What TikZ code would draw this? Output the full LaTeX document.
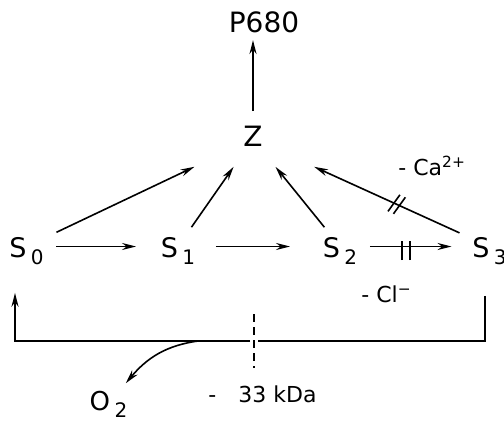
\documentclass[tikz,border=0pt]{standalone}
\usepackage{fontspec}
\setmainfont{DejaVu Sans}
\usetikzlibrary{arrows.meta,decorations.markings}
\newcommand{\lowidx}[1]{\raisebox{-3.5pt}{\fontsize{10}{12}\selectfont #1}}

\begin{document}
\begin{tikzpicture}[
    x=1pt, y=1pt,
    line width=0.8pt,
    big/.style={font=\fontsize{14}{16}\selectfont},
    state/.style={font=\fontsize{13.5}{16}\selectfont, inner xsep=6pt, inner ysep=0pt, text height=14.5pt, text depth=4pt, anchor=base},
    lbl/.style={font=\fontsize{11}{13}\selectfont, anchor=base west},
    arr/.style={-{Stealth[length=7pt,width=3.5pt]}},
    slash/.style={postaction={decorate}, decoration={markings, mark=at position #1 with {\draw[-] (-1.5pt,-5pt) -- (0.5pt,5pt); \draw[-] (1.5pt,-5pt) -- (3.5pt,5pt);}}},
    bars/.style={postaction={decorate}, decoration={markings, mark=at position #1 with {\draw[-] (-2pt,-6.75pt) -- (-2pt,6.75pt); \draw[-] (2pt,-6.75pt) -- (2pt,6.75pt);}}}
]
\useasboundingbox (0,0) rectangle (252,210);

\node[big] (p680) at (132,199) {P680};
\node[big, inner sep=0pt, text height=17pt, text depth=10pt, minimum width=80pt, anchor=base] (z) at (126.5,137) {Z};
\node[state] (s0) at (13.25,81.5) {S\,\lowidx{0}};
\node[state] (s1) at (89,81.5) {S\,\lowidx{1}};
\node[state] (s2) at (170,81.5) {S\,\lowidx{2}};
\node[state] (s3) at (244.75,81.5) {S\,\lowidx{3}};
\node[font=\fontsize{13}{15}\selectfont, anchor=base] (o2) at (54.25,5) {O\,\lowidx{2}};
\node[lbl] (ca) at (195.5,122.5) {- Ca\textsuperscript{2+}};
\node[lbl] (cl) at (177,59) {- Cl\textsuperscript{−}};
\node[lbl] (kda) at (100.5,9) {-\quad 33 kDa};
\coordinate (cut) at (127,39.5);
\coordinate (rel) at (99,39.5);

\draw[arr] (z) -- (z |- p680.south);
\draw[arr] (s0) -- (z);
\draw[arr] (s1) -- (z);
\draw[arr] (s2) -- (z);
\draw[arr, slash=0.42] (s3) -- (z);
\draw[arr, shorten >=6pt] (s0) -- (s1);
\draw[arr, shorten <=4pt, shorten >=10pt] (s1) -- (s2);
\draw[arr, bars=0.4, shorten >=4pt] (s2) -- (s3);

\draw[shorten <=15pt] ([xshift=-2.25pt]s3.south) |- ([xshift=2pt]cut);
\draw[arr, shorten >=13.5pt] ([xshift=-2pt]cut) -| ([xshift=-5.75pt]s0.south);
\draw[dash pattern=on 4pt off 2.5pt] ([yshift=13.5pt]cut) -- ([yshift=-13.5pt]cut);
\draw[arr] (rel) to[out=188, in=50] (o2);
\end{tikzpicture}
\end{document}
